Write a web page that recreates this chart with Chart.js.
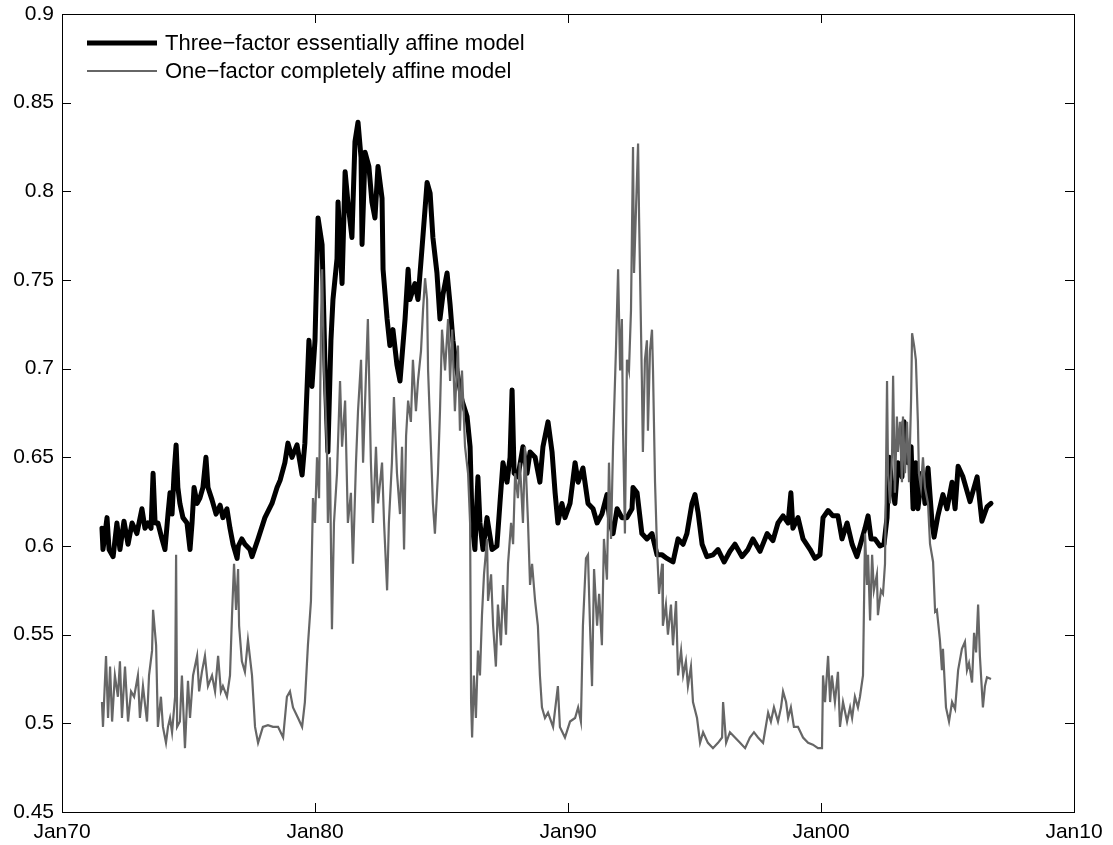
<!DOCTYPE html>
<html>
<head>
  <title>Three-factor vs one-factor affine model</title>
  <style>
    body { margin: 0; background: #fff; }
    #chart { display: block; }
  </style>
</head>
<body>
  <canvas id="chart" width="1113" height="845"></canvas>
  <script src="https://cdn.jsdelivr.net/npm/chart.js"></script>
  <script>
    // Series (decimal year, value)
    const threeFactorYears = [
      1971.58, 1971.62, 1971.78, 1971.86, 1972.02, 1972.17, 1972.29, 1972.45, 1972.61, 1972.77,
      1972.96, 1973.16, 1973.28, 1973.40, 1973.52, 1973.60, 1973.68, 1973.79, 1973.95, 1974.07,
      1974.19, 1974.27, 1974.35, 1974.43, 1974.51, 1974.58, 1974.66, 1974.78, 1974.94, 1975.06,
      1975.14, 1975.22, 1975.34, 1975.45, 1975.57, 1975.69, 1975.77, 1975.93, 1976.09, 1976.25,
      1976.36, 1976.52, 1976.64, 1976.76, 1976.92, 1976.97, 1977.11, 1977.23, 1977.43, 1977.51,
      1977.75, 1978.02, 1978.30, 1978.50, 1978.62, 1978.81, 1978.93, 1979.09, 1979.29, 1979.49,
      1979.60, 1979.76, 1979.88, 1980.00, 1980.12, 1980.28, 1980.40, 1980.51, 1980.63, 1980.71,
      1980.87, 1980.91, 1981.07, 1981.19, 1981.30, 1981.46, 1981.58, 1981.70, 1981.82, 1981.86,
      1981.98, 1982.13, 1982.25, 1982.37, 1982.49, 1982.65, 1982.69, 1982.85, 1982.96, 1983.08,
      1983.24, 1983.36, 1983.56, 1983.68, 1983.75, 1983.95, 1984.07, 1984.23, 1984.43, 1984.55,
      1984.66, 1984.82, 1984.94, 1985.06, 1985.22, 1985.34, 1985.45, 1985.61, 1985.81, 1986.01,
      1986.13, 1986.21, 1986.32, 1986.44, 1986.52, 1986.64, 1986.80, 1987.00, 1987.19, 1987.31,
      1987.43, 1987.59, 1987.71, 1987.79, 1987.87, 1988.02, 1988.22, 1988.38, 1988.50, 1988.70,
      1988.89, 1989.01, 1989.21, 1989.37, 1989.49, 1989.60, 1989.76, 1989.88, 1990.08, 1990.28,
      1990.40, 1990.59, 1990.79, 1990.99, 1991.15, 1991.34, 1991.54, 1991.66, 1991.78, 1991.94,
      1992.13, 1992.33, 1992.53, 1992.57, 1992.73, 1992.92, 1993.12, 1993.32, 1993.52, 1993.72,
      1993.91, 1994.15, 1994.35, 1994.55, 1994.70, 1994.90, 1995.02, 1995.14, 1995.30, 1995.49,
      1995.73, 1995.93, 1996.17, 1996.40, 1996.60, 1996.88, 1997.11, 1997.31, 1997.59, 1997.87,
      1998.10, 1998.30, 1998.50, 1998.70, 1998.81, 1998.89, 1999.09, 1999.29, 1999.57, 1999.76,
      1999.96, 2000.08, 2000.28, 2000.47, 2000.67, 2000.83, 2001.03, 2001.23, 2001.42, 2001.62,
      2001.74, 2001.86, 2001.98, 2002.13, 2002.33, 2002.49, 2002.61, 2002.69, 2002.81, 2002.92,
      2003.04, 2003.20, 2003.28, 2003.44, 2003.56, 2003.64, 2003.75, 2003.83, 2003.99, 2004.11,
      2004.23, 2004.39, 2004.47, 2004.62, 2004.82, 2004.98, 2005.18, 2005.30, 2005.42, 2005.61,
      2005.89, 2006.17, 2006.36, 2006.56, 2006.72
    ];
    const threeFactorValues = [
      0.610, 0.598, 0.616, 0.598, 0.594, 0.613, 0.598, 0.614, 0.601, 0.613,
      0.607, 0.621, 0.610, 0.613, 0.610, 0.641, 0.613, 0.613, 0.604, 0.598,
      0.618, 0.630, 0.618, 0.641, 0.657, 0.633, 0.624, 0.616, 0.613, 0.598,
      0.613, 0.633, 0.624, 0.627, 0.633, 0.650, 0.633, 0.626, 0.618, 0.623,
      0.616, 0.621, 0.610, 0.601, 0.593, 0.600, 0.604, 0.601, 0.598, 0.594,
      0.604, 0.616, 0.624, 0.633, 0.637, 0.647, 0.658, 0.650, 0.657, 0.640,
      0.658, 0.716, 0.690, 0.716, 0.785, 0.770, 0.699, 0.653, 0.716, 0.739,
      0.762, 0.794, 0.748, 0.811, 0.794, 0.774, 0.828, 0.839, 0.819, 0.770,
      0.822, 0.814, 0.794, 0.785, 0.814, 0.796, 0.756, 0.728, 0.713, 0.722,
      0.702, 0.693, 0.728, 0.756, 0.739, 0.748, 0.739, 0.768, 0.805, 0.799,
      0.774, 0.754, 0.728, 0.742, 0.754, 0.736, 0.716, 0.699, 0.682, 0.673,
      0.656, 0.613, 0.598, 0.639, 0.613, 0.598, 0.616, 0.598, 0.600, 0.624,
      0.647, 0.636, 0.650, 0.688, 0.641, 0.639, 0.656, 0.641, 0.653, 0.650,
      0.636, 0.656, 0.670, 0.653, 0.630, 0.613, 0.624, 0.616, 0.624, 0.647,
      0.636, 0.644, 0.624, 0.621, 0.613, 0.618, 0.629, 0.613, 0.607, 0.621,
      0.616, 0.616, 0.621, 0.633, 0.630, 0.607, 0.604, 0.607, 0.595, 0.595,
      0.593, 0.591, 0.604, 0.601, 0.607, 0.624, 0.629, 0.619, 0.601, 0.594,
      0.595, 0.598, 0.591, 0.597, 0.601, 0.594, 0.598, 0.604, 0.597, 0.607,
      0.603, 0.613, 0.617, 0.613, 0.630, 0.610, 0.616, 0.604, 0.598, 0.593,
      0.595, 0.616, 0.620, 0.617, 0.617, 0.604, 0.613, 0.601, 0.594, 0.604,
      0.610, 0.617, 0.604, 0.604, 0.600, 0.601, 0.616, 0.650, 0.633, 0.624,
      0.647, 0.639, 0.670, 0.647, 0.656, 0.621, 0.647, 0.621, 0.641, 0.624,
      0.644, 0.613, 0.605, 0.617, 0.629, 0.621, 0.636, 0.621, 0.645, 0.639,
      0.625, 0.639, 0.614, 0.622, 0.624
    ];

    const oneFactorYears = [
      1971.58, 1971.62, 1971.74, 1971.82, 1971.90, 1971.98, 1972.09, 1972.21, 1972.29, 1972.37,
      1972.49, 1972.61, 1972.73, 1972.85, 1973.00, 1973.08, 1973.20, 1973.36, 1973.44, 1973.56,
      1973.60, 1973.72, 1973.79, 1973.91, 1973.99, 1974.11, 1974.19, 1974.27, 1974.35, 1974.47,
      1974.51, 1974.55, 1974.66, 1974.74, 1974.86, 1974.98, 1975.06, 1975.18, 1975.34, 1975.42,
      1975.53, 1975.65, 1975.77, 1975.93, 1976.05, 1976.17, 1976.28, 1976.36, 1976.52, 1976.64,
      1976.72, 1976.80, 1976.88, 1976.96, 1977.00, 1977.11, 1977.23, 1977.35, 1977.51, 1977.63,
      1977.75, 1977.94, 1978.14, 1978.34, 1978.54, 1978.74, 1978.89, 1979.01, 1979.13, 1979.33,
      1979.49, 1979.60, 1979.72, 1979.84, 1979.92, 1980.00, 1980.08, 1980.16, 1980.24, 1980.28,
      1980.36, 1980.47, 1980.51, 1980.59, 1980.67, 1980.75, 1980.87, 1980.99, 1981.07, 1981.19,
      1981.30, 1981.42, 1981.50, 1981.62, 1981.70, 1981.82, 1981.90, 1982.02, 1982.09, 1982.21,
      1982.29, 1982.41, 1982.49, 1982.65, 1982.73, 1982.85, 1982.92, 1983.04, 1983.12, 1983.24,
      1983.36, 1983.44, 1983.52, 1983.60, 1983.68, 1983.79, 1983.87, 1983.99, 1984.07, 1984.19,
      1984.27, 1984.35, 1984.43, 1984.47, 1984.58, 1984.66, 1984.74, 1984.86, 1984.94, 1985.02,
      1985.14, 1985.26, 1985.34, 1985.42, 1985.53, 1985.65, 1985.73, 1985.81, 1985.93, 1986.05,
      1986.13, 1986.17, 1986.21, 1986.28, 1986.36, 1986.44, 1986.52, 1986.60, 1986.68, 1986.80,
      1986.84, 1986.96, 1987.04, 1987.15, 1987.23, 1987.35, 1987.43, 1987.55, 1987.63, 1987.75,
      1987.83, 1987.91, 1988.02, 1988.10, 1988.22, 1988.30, 1988.42, 1988.50, 1988.58, 1988.70,
      1988.81, 1988.89, 1988.97, 1989.09, 1989.21, 1989.41, 1989.60, 1989.68, 1989.88, 1990.08,
      1990.28, 1990.40, 1990.51, 1990.59, 1990.71, 1990.79, 1990.87, 1990.95, 1991.03, 1991.15,
      1991.23, 1991.34, 1991.42, 1991.54, 1991.62, 1991.70, 1991.78, 1991.90, 1991.98, 1992.06,
      1992.13, 1992.17, 1992.25, 1992.33, 1992.41, 1992.49, 1992.57, 1992.61, 1992.69, 1992.77,
      1992.81, 1992.92, 1992.96, 1993.04, 1993.12, 1993.16, 1993.24, 1993.32, 1993.36, 1993.44,
      1993.52, 1993.60, 1993.72, 1993.75, 1993.87, 1993.95, 1994.07, 1994.15, 1994.27, 1994.35,
      1994.47, 1994.55, 1994.66, 1994.74, 1994.86, 1994.94, 1995.10, 1995.22, 1995.34, 1995.53,
      1995.73, 1995.93, 1996.09, 1996.13, 1996.25, 1996.40, 1996.60, 1996.80, 1997.00, 1997.19,
      1997.35, 1997.51, 1997.71, 1997.91, 1998.02, 1998.14, 1998.30, 1998.42, 1998.50, 1998.62,
      1998.70, 1998.81, 1998.93, 1999.09, 1999.29, 1999.49, 1999.68, 1999.88, 2000.04, 2000.08,
      2000.16, 2000.28, 2000.36, 2000.43, 2000.55, 2000.67, 2000.75, 2000.87, 2001.03, 2001.15,
      2001.23, 2001.34, 2001.46, 2001.54, 2001.66, 2001.74, 2001.82, 2001.86, 2001.94, 2002.02,
      2002.09, 2002.21, 2002.25, 2002.37, 2002.45, 2002.53, 2002.61, 2002.65, 2002.73, 2002.81,
      2002.85, 2002.92, 2003.00, 2003.04, 2003.12, 2003.20, 2003.24, 2003.32, 2003.40, 2003.48,
      2003.56, 2003.60, 2003.68, 2003.75, 2003.83, 2003.87, 2003.95, 2004.03, 2004.11, 2004.23,
      2004.31, 2004.43, 2004.51, 2004.58, 2004.70, 2004.78, 2004.82, 2004.94, 2005.06, 2005.18,
      2005.30, 2005.42, 2005.57, 2005.69, 2005.77, 2005.85, 2005.97, 2006.05, 2006.13, 2006.21,
      2006.28, 2006.40, 2006.48, 2006.56, 2006.72
    ];
    const oneFactorValues = [
      0.512, 0.498, 0.538, 0.503, 0.532, 0.501, 0.527, 0.515, 0.535, 0.503,
      0.532, 0.501, 0.518, 0.515, 0.527, 0.503, 0.521, 0.501, 0.527, 0.541,
      0.564, 0.544, 0.498, 0.515, 0.498, 0.489, 0.498, 0.503, 0.495, 0.515,
      0.595, 0.498, 0.501, 0.527, 0.486, 0.524, 0.503, 0.527, 0.538, 0.518,
      0.529, 0.538, 0.521, 0.527, 0.518, 0.538, 0.518, 0.521, 0.515, 0.527,
      0.561, 0.590, 0.564, 0.587, 0.555, 0.535, 0.529, 0.547, 0.527, 0.498,
      0.489, 0.498, 0.499, 0.498, 0.498, 0.492, 0.515, 0.518, 0.509, 0.503,
      0.498, 0.512, 0.544, 0.569, 0.627, 0.613, 0.650, 0.627, 0.728, 0.756,
      0.699, 0.656, 0.613, 0.650, 0.553, 0.613, 0.641, 0.693, 0.656, 0.682,
      0.613, 0.630, 0.590, 0.647, 0.676, 0.705, 0.647, 0.699, 0.728, 0.647,
      0.613, 0.656, 0.624, 0.647, 0.613, 0.575, 0.613, 0.647, 0.684, 0.641,
      0.618, 0.656, 0.598, 0.662, 0.682, 0.670, 0.705, 0.676, 0.693, 0.710,
      0.733, 0.751, 0.739, 0.699, 0.656, 0.624, 0.607, 0.641, 0.676, 0.722,
      0.699, 0.728, 0.693, 0.722, 0.676, 0.713, 0.665, 0.699, 0.656, 0.641,
      0.613, 0.512, 0.492, 0.527, 0.503, 0.541, 0.527, 0.561, 0.584, 0.604,
      0.569, 0.584, 0.555, 0.532, 0.567, 0.544, 0.578, 0.550, 0.590, 0.613,
      0.601, 0.641, 0.627, 0.647, 0.613, 0.656, 0.613, 0.578, 0.590, 0.569,
      0.555, 0.527, 0.509, 0.503, 0.506, 0.498, 0.521, 0.498, 0.492, 0.501,
      0.503, 0.509, 0.501, 0.555, 0.593, 0.595, 0.555, 0.521, 0.587, 0.555,
      0.573, 0.544, 0.604, 0.581, 0.647, 0.604, 0.656, 0.713, 0.756, 0.699,
      0.728, 0.670, 0.607, 0.705, 0.699, 0.733, 0.825, 0.754, 0.791, 0.827,
      0.785, 0.693, 0.653, 0.705, 0.716, 0.665, 0.710, 0.722, 0.699, 0.636,
      0.598, 0.573, 0.590, 0.555, 0.567, 0.550, 0.567, 0.544, 0.569, 0.527,
      0.541, 0.527, 0.535, 0.521, 0.532, 0.512, 0.503, 0.489, 0.495, 0.489,
      0.486, 0.489, 0.492, 0.512, 0.489, 0.495, 0.492, 0.489, 0.486, 0.492,
      0.495, 0.492, 0.489, 0.506, 0.501, 0.509, 0.501, 0.509, 0.518, 0.512,
      0.503, 0.509, 0.498, 0.498, 0.492, 0.489, 0.488, 0.486, 0.486, 0.527,
      0.512, 0.538, 0.512, 0.527, 0.512, 0.529, 0.498, 0.512, 0.501, 0.509,
      0.503, 0.515, 0.509, 0.515, 0.527, 0.607, 0.578, 0.595, 0.558, 0.595,
      0.575, 0.584, 0.561, 0.575, 0.573, 0.590, 0.693, 0.641, 0.624, 0.653,
      0.696, 0.630, 0.673, 0.653, 0.670, 0.636, 0.673, 0.641, 0.670, 0.636,
      0.682, 0.720, 0.713, 0.705, 0.670, 0.641, 0.633, 0.650, 0.633, 0.624,
      0.601, 0.591, 0.563, 0.564, 0.547, 0.530, 0.542, 0.509, 0.501, 0.512,
      0.508, 0.530, 0.542, 0.546, 0.530, 0.534, 0.523, 0.551, 0.540, 0.567,
      0.538, 0.509, 0.521, 0.526, 0.525
    ];

    const seriesLabels = ['Three\u2212factor essentially affine model', 'One\u2212factor completely affine model'];
    const xTickYears = [1970, 1980, 1990, 2000, 2010];
    const xTickLabels = ['Jan70', 'Jan80', 'Jan90', 'Jan00', 'Jan10'];
    const yTickValues = [0.45, 0.5, 0.55, 0.6, 0.65, 0.7, 0.75, 0.8, 0.85, 0.9];
    const yTickLabels = ['0.45', '0.5', '0.55', '0.6', '0.65', '0.7', '0.75', '0.8', '0.85', '0.9'];

    const FONT = "'Liberation Sans', Arial, Helvetica, sans-serif";
    const toPoints = (xs, ys) => xs.map((x, i) => ({ x: x, y: ys[i] }));

    // MATLAB style: inward ticks on all four sides plus a closed box
    const boxTicks = {
      id: 'boxTicks',
      afterDraw(chart) {
        const { ctx, chartArea: a, scales } = chart;
        const len = 9;
        ctx.save();
        ctx.strokeStyle = '#000';
        ctx.lineWidth = 1;
        ctx.beginPath();
        scales.x.ticks.forEach(t => {
          const px = Math.round(scales.x.getPixelForValue(t.value)) + 0.5;
          ctx.moveTo(px, a.bottom); ctx.lineTo(px, a.bottom - len);
          ctx.moveTo(px, a.top); ctx.lineTo(px, a.top + len);
        });
        scales.y.ticks.forEach(t => {
          const py = Math.round(scales.y.getPixelForValue(t.value)) + 0.5;
          ctx.moveTo(a.left, py); ctx.lineTo(a.left + len, py);
          ctx.moveTo(a.right, py); ctx.lineTo(a.right - len, py);
        });
        ctx.stroke();
        ctx.strokeRect(a.left + 0.5, a.top + 0.5, a.right - a.left, a.bottom - a.top);
        ctx.restore();
      }
    };

    // legend drawn inside the axes, top left, like MATLAB's
    const insideLegend = {
      id: 'insideLegend',
      afterDraw(chart) {
        const { ctx, chartArea: a } = chart;
        ctx.save();
        ctx.font = '22px ' + FONT;
        ctx.textBaseline = 'middle';
        ctx.fillStyle = '#000';
        chart.data.datasets.forEach((ds, i) => {
          const y = a.top + 29 + i * 28;
          ctx.strokeStyle = ds.borderColor;
          ctx.lineWidth = ds.borderWidth;
          ctx.beginPath();
          ctx.moveTo(a.left + 25, y);
          ctx.lineTo(a.left + 95, y);
          ctx.stroke();
          ctx.fillText(ds.label, a.left + 103, y + 1);
        });
        ctx.restore();
      }
    };

    new Chart(document.getElementById('chart'), {
      type: 'line',
      data: {
        datasets: [
          {
            label: seriesLabels[0],
            data: toPoints(threeFactorYears, threeFactorValues),
            borderColor: '#000000',
            borderWidth: 5,
            borderJoinStyle: 'round',
            borderCapStyle: 'round',
            pointRadius: 0,
            tension: 0,
            order: 2
          },
          {
            label: seriesLabels[1],
            data: toPoints(oneFactorYears, oneFactorValues),
            borderColor: '#666666',
            borderWidth: 2.2,
            pointRadius: 0,
            tension: 0,
            order: 1
          }
        ]
      },
      options: {
        responsive: false,
        animation: false,
        devicePixelRatio: 1,
        layout: { padding: { left: 0, top: 14, right: 39, bottom: 0 } },
        plugins: {
          legend: { display: false },
          tooltip: { enabled: false }
        },
        scales: {
          x: {
            type: 'linear',
            min: 1970,
            max: 2010,
            afterBuildTicks: s => { s.ticks = xTickYears.map(v => ({ value: v })); },
            afterFit: s => { s.height = 33; s.paddingLeft = 0; s.paddingRight = 0; },
            grid: { display: false, drawTicks: false },
            border: { display: false },
            ticks: {
              autoSkip: false,
              maxRotation: 0,
              padding: 8,
              color: '#000',
              font: { family: FONT, size: 21 },
              callback: (v, i) => xTickLabels[i]
            }
          },
          y: {
            type: 'linear',
            min: 0.45,
            max: 0.9,
            afterBuildTicks: s => { s.ticks = yTickValues.map(v => ({ value: v })); },
            afterFit: s => { s.width = 62; s.paddingTop = 0; s.paddingBottom = 0; },
            grid: { display: false, drawTicks: false },
            border: { display: false },
            ticks: {
              padding: 8,
              color: '#000',
              font: { family: FONT, size: 21 },
              callback: (v, i) => yTickLabels[i]
            }
          }
        }
      },
      plugins: [boxTicks, insideLegend]
    });
  </script>
</body>
</html>
